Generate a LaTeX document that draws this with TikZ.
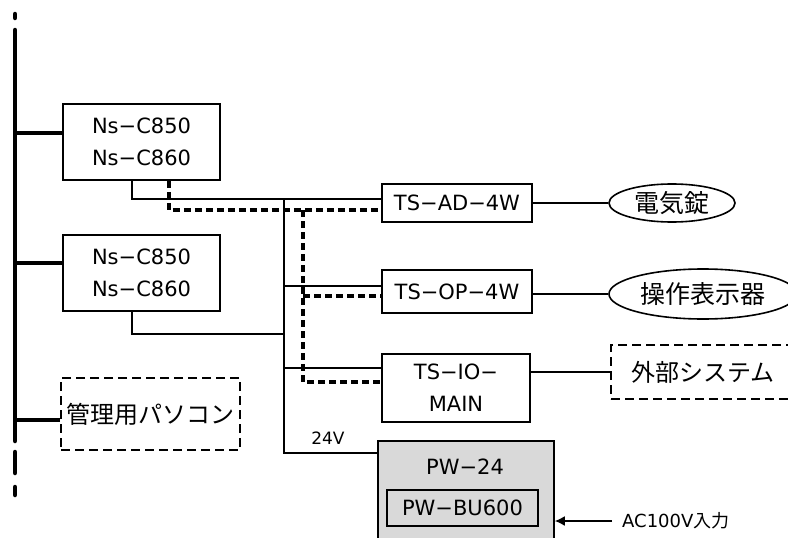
\documentclass[tikz,border=0pt]{standalone}
\usepackage{fontspec}
\setmainfont{DejaVu Sans}
\newfontfamily\jpfont{Noto Sans CJK JP}
\usepackage{xcolor}
\definecolor{pwgray}{RGB}{217,217,217}
\usetikzlibrary{shapes.geometric,arrows.meta}
\newcommand{\boxfont}{\fontsize{21}{32}\selectfont}
\newcommand{\jpbig}{\jpfont\fontsize{25}{30}\selectfont}
\newcommand{\jpmid}{\jpfont\fontsize{24}{30}\selectfont}

\begin{document}
\begin{tikzpicture}[x=1pt,y=-1pt,
  unitbox/.style={draw,line width=1.6pt,inner sep=0pt,align=center,font=\boxfont},
  devbox/.style={draw,ellipse,line width=1.6pt,inner sep=0pt,font=\jpbig},
  extbox/.style={draw,dash pattern=on 9pt off 5pt,line width=1.6pt,inner sep=0pt,font=\jpmid},
  wire/.style={line width=1.6pt},
  sigwire/.style={line width=3.3pt,dash pattern=on 7pt off 4pt},
  busline/.style={line width=4.5pt,line cap=round}]
\useasboundingbox (0,0) rectangle (788,538);
\clip (0,0) rectangle (788,538);
% ---- bus ----
\coordinate (bus) at (15,0);
\coordinate (trunk) at (284,0);
\coordinate (sigtrunk) at (303,0);
\draw[busline] (15,14) -- (15,18);
\draw[busline] (15,30) -- (15,441);
\draw[busline] (15,452) -- (15,473);
\draw[busline] (15,487) -- (15,495);
% ---- controllers ----
\node[unitbox,minimum width=157,minimum height=76] (ns1) at (141.5,142) {Ns−C850\\Ns−C860};
\node[unitbox,minimum width=157,minimum height=76] (ns2) at (141.5,273) {Ns−C850\\Ns−C860};
\node[extbox,minimum width=179,minimum height=72] (pc) at (150.5,414) {管理用パソコン};
\draw[busline,line cap=butt] ([yshift=9pt]ns1.west -| bus) -- ([yshift=9pt]ns1.west);
\draw[busline,line cap=butt] ([yshift=10pt]ns2.west -| bus) -- ([yshift=10pt]ns2.west);
\draw[busline,line cap=butt] ([yshift=-6pt]pc.west -| bus) -- ([yshift=-6pt]pc.west);
% ---- terminal units ----
\node[unitbox,minimum width=150,minimum height=38] (adw) at (457,203) {TS−AD−4W};
\node[unitbox,minimum width=150,minimum height=43] (opw) at (457,291.5) {TS−OP−4W};
\node[unitbox,minimum width=148,minimum height=68] (iom) at (456,388) {TS−IO−\\MAIN};
\node[devbox,minimum width=126,minimum height=38] (lock) at (672,203) {電気錠};
\node[devbox,minimum width=188,minimum height=50] (disp) at (703,294) {操作表示器};
\node[extbox,minimum width=184,minimum height=54] (ext) at (703,372) {外部システム};
% ---- power ----
\node[draw,fill=pwgray,line width=1.6pt,minimum width=176,minimum height=134] (pw) at (466,508) {};
\node[font=\boxfont] (pwtitle) at (465,467) {PW−24};
\node[unitbox,fill=pwgray,minimum width=151,minimum height=36] (bu) at (462.5,508) {PW−BU600};
\node[font=\fontsize{17}{20}\selectfont] (v24) at (328,438) {24V};
\node[anchor=west,inner sep=0pt,font=\fontsize{18}{20}\selectfont] (ac) at (622,521) {AC100V{\jpfont 入力}};
% ---- wiring ----
\draw[wire] ([xshift=-9.5pt]ns1.south) |- ([yshift=4pt]adw.west);
\draw[wire] ([xshift=-9.5pt]ns2.south) |- ([yshift=-22pt]ns2.south -| trunk);
\draw[wire] ([yshift=4pt]adw.west -| trunk) |- ([yshift=-13pt]pw.north west);
\draw[wire] ([yshift=5.5pt]opw.west -| trunk) -- ([yshift=5.5pt]opw.west);
\draw[wire] ([yshift=20pt]iom.west -| trunk) -- ([yshift=20pt]iom.west);
\draw[sigwire] ([xshift=27.5pt]ns1.south) |- ([yshift=-7pt]adw.west);
\draw[sigwire] ([yshift=-7pt]adw.west -| sigtrunk) |- ([yshift=6pt]iom.west);
\draw[sigwire] ([yshift=-4.5pt]opw.west -| sigtrunk) -- ([yshift=-4.5pt]opw.west);
\draw[wire] (adw.east) -- (lock.west);
\draw[wire] (disp.west -| opw.east) -- (disp.west);
\draw[wire] (ext.west -| iom.east) -- (ext.west);
\draw[wire,-{Latex[length=10pt,width=10pt]}] ([xshift=-10pt]ac.west) -- (ac.west -| pw.east);
\end{tikzpicture}
\end{document}
